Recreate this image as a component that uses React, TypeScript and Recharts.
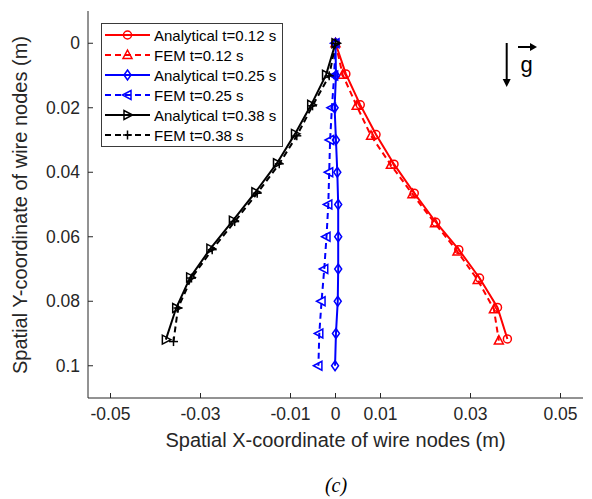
import React from 'react';
import { ScatterChart, Scatter, XAxis, YAxis, Legend } from 'recharts';

// node coordinates (m)
const anaX012 = [0, 0.0023, 0.0055, 0.009, 0.013, 0.0175, 0.0223, 0.0274, 0.032, 0.036, 0.0382];
const anaY012 = [0, 0.0095, 0.0191, 0.0283, 0.0375, 0.0465, 0.0555, 0.064, 0.0728, 0.0819, 0.0917];
const femX012 = [0, 0.0016, 0.0047, 0.0079, 0.0123, 0.0171, 0.0221, 0.0271, 0.0316, 0.0352, 0.0363];
const femY012 = [0, 0.0098, 0.0194, 0.0287, 0.0377, 0.0468, 0.0558, 0.0646, 0.0734, 0.0825, 0.0922];

const anaX025 = [0, 0.0001, -0.0002, 0.0001, 0.0004, 0.0006, 0.0006, 0.0006, 0.0005, 0.0001, -0.0001];
const anaY025 = [0, 0.01, 0.02, 0.03, 0.04, 0.05, 0.06, 0.07, 0.08, 0.09, 0.1];
const femX025 = [0, -0.0003, -0.0008, -0.0012, -0.0014, -0.0016, -0.002, -0.0025, -0.0031, -0.0036, -0.0038];
const femY025 = [0, 0.01, 0.02, 0.03, 0.04, 0.05, 0.06, 0.07, 0.08, 0.09, 0.1];

const anaX038 = [0, -0.0021, -0.0054, -0.009, -0.013, -0.0178, -0.0228, -0.0278, -0.0323, -0.0354, -0.0377];
const anaY038 = [0, 0.0098, 0.0191, 0.0281, 0.0372, 0.0462, 0.055, 0.0637, 0.0726, 0.0821, 0.0919];
const femX038 = [0, -0.0014, -0.0051, -0.0086, -0.0125, -0.0174, -0.0224, -0.0274, -0.032, -0.035, -0.036];
const femY038 = [0, 0.0101, 0.0194, 0.0287, 0.0374, 0.0465, 0.0553, 0.064, 0.0728, 0.0821, 0.0925];

const xTicks = [-0.05, -0.03, -0.01, 0, 0.01, 0.03, 0.05];
const yTicks = [0, 0.02, 0.04, 0.06, 0.08, 0.1];

const FONT = '"Liberation Sans", Arial, Helvetica, sans-serif';
const AXIS = '#262626';

const toPoints = (xs: number[], ys: number[]) => xs.map((x, i) => ({ x, y: ys[i] }));

type Kind = 'circle' | 'up' | 'diamond' | 'left' | 'right' | 'plus';

const series = [
  { name: 'Analytical t=0.12 s', data: toPoints(anaX012, anaY012), color: '#ff0000', dash: undefined, kind: 'circle' as Kind },
  { name: 'FEM t=0.12 s', data: toPoints(femX012, femY012), color: '#ff0000', dash: '6 4', kind: 'up' as Kind },
  { name: 'Analytical t=0.25 s', data: toPoints(anaX025, anaY025), color: '#0000ff', dash: undefined, kind: 'diamond' as Kind },
  { name: 'FEM t=0.25 s', data: toPoints(femX025, femY025), color: '#0000ff', dash: '6 4', kind: 'left' as Kind },
  { name: 'Analytical t=0.38 s', data: toPoints(anaX038, anaY038), color: '#000000', dash: undefined, kind: 'right' as Kind },
  { name: 'FEM t=0.38 s', data: toPoints(femX038, femY038), color: '#000000', dash: '6 4', kind: 'plus' as Kind },
];

const Marker = ({ kind, cx, cy, color }: { kind: Kind; cx: number; cy: number; color: string }) => {
  const p = { fill: 'none', stroke: color, strokeWidth: 1.5 };
  switch (kind) {
    case 'circle':
      return <circle cx={cx} cy={cy} r={4} {...p} />;
    case 'up':
      return <polygon points={`${cx},${cy - 5} ${cx - 4.5},${cy + 3.5} ${cx + 4.5},${cy + 3.5}`} {...p} />;
    case 'diamond':
      return <polygon points={`${cx},${cy - 5} ${cx + 3.5},${cy} ${cx},${cy + 5} ${cx - 3.5},${cy}`} {...p} />;
    case 'left':
      return <polygon points={`${cx - 5},${cy} ${cx + 3.5},${cy - 4.5} ${cx + 3.5},${cy + 4.5}`} {...p} />;
    case 'right':
      return <polygon points={`${cx + 5},${cy} ${cx - 3.5},${cy - 4.5} ${cx - 3.5},${cy + 4.5}`} {...p} />;
    default:
      return (
        <g {...p}>
          <line x1={cx - 4.5} y1={cy} x2={cx + 4.5} y2={cy} />
          <line x1={cx} y1={cy - 4.5} x2={cx} y2={cy + 4.5} />
        </g>
      );
  }
};

const renderLegend = () => (
  <svg width={182} height={124} style={{ display: 'block' }}>
    <rect x={0.5} y={0.5} width={181} height={123} fill="#fff" stroke="#3a3a3a" strokeWidth={1} />
    {series.map((s, i) => {
      const cy = 12 + i * 20;
      return (
        <g key={s.name}>
          <line x1={4} y1={cy} x2={49} y2={cy} stroke={s.color} strokeWidth={2} strokeDasharray={s.dash} />
          <Marker kind={s.kind} cx={26.5} cy={cy} color={s.color} />
          <text x={53} y={cy + 5.5} fontSize={15} fontFamily={FONT} fill="#000">
            {s.name}
          </text>
        </g>
      );
    })}
  </svg>
);

const WireNodesChart: React.FC = () => {
  return (
    <div style={{ position: 'absolute', left: 0, top: 0, width: 592, height: 499, background: '#fff' }}>
      <ScatterChart width={592} height={499} margin={{ top: 11, right: 9, bottom: 0, left: 0 }}>
        <XAxis
          type="number"
          dataKey="x"
          domain={[-0.055, 0.055]}
          ticks={xTicks}
          allowDataOverflow
          height={101}
          tickSize={-5}
          tickMargin={15}
          stroke={AXIS}
          tick={{ fill: AXIS, fontSize: 17.5, fontFamily: FONT }}
        />
        <XAxis
          xAxisId="top"
          orientation="top"
          type="number"
          dataKey="x"
          domain={[-0.055, 0.055]}
          ticks={xTicks}
          allowDataOverflow
          height={0}
          tickSize={-5}
          stroke={AXIS}
          tickFormatter={() => ''}
        />
        <YAxis
          type="number"
          dataKey="y"
          domain={[-0.01, 0.11]}
          ticks={yTicks}
          reversed
          allowDataOverflow
          width={88}
          tickSize={-5}
          tickMargin={13}
          stroke={AXIS}
          tick={{ fill: AXIS, fontSize: 17.5, fontFamily: FONT }}
        />
        <YAxis
          yAxisId="right"
          orientation="right"
          type="number"
          dataKey="y"
          domain={[-0.01, 0.11]}
          ticks={yTicks}
          reversed
          allowDataOverflow
          width={0}
          tickSize={-5}
          stroke={AXIS}
          tickFormatter={() => ''}
        />
        <Legend
          layout="horizontal"
          verticalAlign="middle"
          align="center"
          content={renderLegend}
          wrapperStyle={{ position: 'absolute', left: 101, top: 23, width: 182, height: 124 }}
        />
        {series.map((s) => (
          <Scatter
            key={s.name}
            name={s.name}
            data={s.data}
            fill={s.color}
            line={{ stroke: s.color, strokeWidth: 2, strokeDasharray: s.dash }}
            lineType="joint"
            isAnimationActive={false}
            shape={(props: any) => <Marker kind={s.kind} cx={props.cx} cy={props.cy} color={s.color} />}
          />
        ))}
      </ScatterChart>
      <svg width={592} height={499} style={{ position: 'absolute', left: 0, top: 0, pointerEvents: 'none' }}>
        <text x={335.5} y={447} textAnchor="middle" fontSize={20} fontFamily={FONT} fill={AXIS}>
          Spatial X-coordinate of wire nodes (m)
        </text>
        <text
          x={0}
          y={0}
          transform="translate(27,205) rotate(-90)"
          textAnchor="middle"
          fontSize={20}
          fontFamily={FONT}
          fill={AXIS}
        >
          Spatial Y-coordinate of wire nodes (m)
        </text>
        <text x={336} y={492} textAnchor="middle" fontSize={20} fontStyle="italic" fontFamily='"Liberation Serif", "DejaVu Serif", serif' fill="#000">
          (c)
        </text>
        <line x1={506.7} y1={43} x2={506.7} y2={80} stroke="#000" strokeWidth={2} />
        <polygon points="502.7,79 510.7,79 506.7,87" fill="#000" />
        <line x1={518} y1={47} x2={531} y2={47} stroke="#000" strokeWidth={2} />
        <polygon points="530,43 530,51 537,47" fill="#000" />
        <text x={526.5} y={72} textAnchor="middle" fontSize={22} fontFamily={FONT} fill="#000">
          g
        </text>
      </svg>
    </div>
  );
};

export default WireNodesChart;
